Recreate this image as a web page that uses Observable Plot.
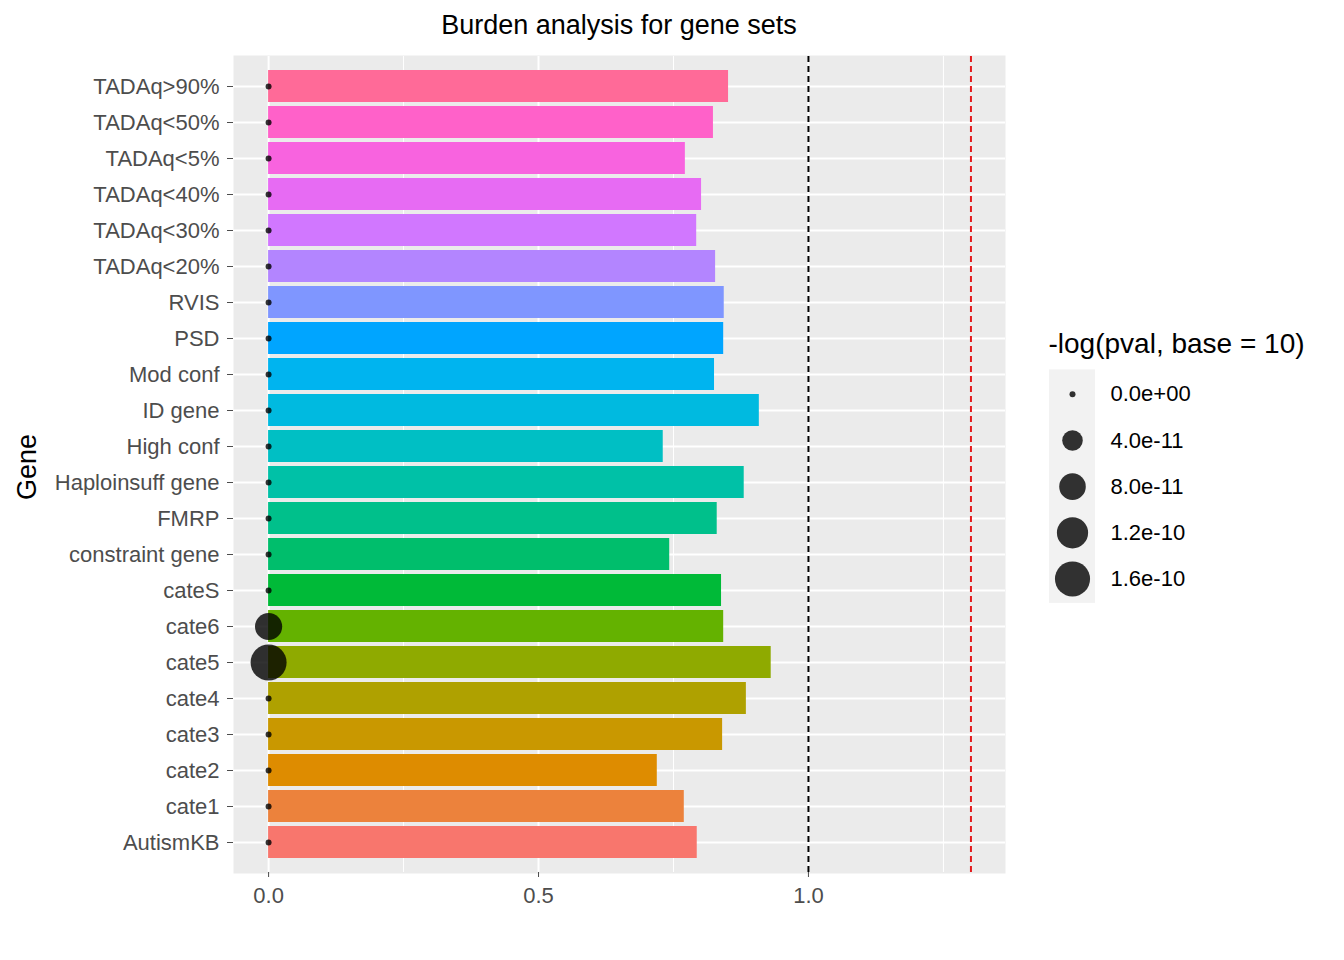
<!DOCTYPE html>
<html>
<head>
<meta charset="utf-8">
<script src="https://cdn.jsdelivr.net/npm/d3@7"></script>
<script src="https://cdn.jsdelivr.net/npm/@observablehq/plot@0.6"></script>
<style>
body { margin: 0; background: white; font-family: "Liberation Sans", Arial, sans-serif; }
#wrap { position: relative; width: 1344px; height: 960px; }
#title { position: absolute; left: 233px; width: 772px; top: 10px; text-align: center; font-size: 27px; color: #000; }
#ylab { position: absolute; left: 12px; top: 500px; transform: rotate(-90deg); transform-origin: left top; font-size: 27px; }
#chart { position: absolute; left: 0; top: 0; }
#legend { position: absolute; left: 1040px; top: 320px; }
</style>
</head>
<body>
<div id="wrap">
  <div id="chart"></div>
  <div id="title">Burden analysis for gene sets</div>
  <div id="ylab">Gene</div>
  <div id="legend"></div>
</div>
<script>
// gene sets, bottom to top (factor order)
let genes = ["AutismKB", "cate1", "cate2", "cate3", "cate4", "cate5", "cate6", "cateS",
  "constraint gene", "FMRP", "Haploinsuff gene", "High conf", "ID gene", "Mod conf",
  "PSD", "RVIS", "TADAq<20%", "TADAq<30%", "TADAq<40%", "TADAq<5%", "TADAq<50%", "TADAq>90%"];
let ratio = [0.794, 0.770, 0.720, 0.841, 0.885, 0.931, 0.843, 0.839,
  0.743, 0.831, 0.881, 0.731, 0.909, 0.826,
  0.843, 0.844, 0.828, 0.793, 0.802, 0.772, 0.824, 0.852];
let logp = [0, 0, 0, 0, 0, 1.7e-10, 8.5e-11, 0,
  0, 0, 0, 0, 0, 0,
  0, 0, 0, 0, 0, 0, 0, 0];
let colors = ["#F8766D", "#EC823C", "#DE8C00", "#C99800", "#AFA100", "#8FAA00", "#64B200", "#00BA38",
  "#00BE6C", "#00C08B", "#00C1A7", "#00BFC4", "#00BAE0", "#00B4EF",
  "#00A5FF", "#7F96FF", "#B385FF", "#D177FF", "#E76BF3", "#F863DF", "#FF61C9", "#FF6A98"];
let legendVals = [0, 4e-11, 8e-11, 1.2e-10, 1.6e-10];
let legendLabels = ["0.0e+00", "4.0e-11", "8.0e-11", "1.2e-10", "1.6e-10"];

let data = genes.map((g, i) => ({gene: g, ratio: ratio[i], logp: logp[i]}));

let rScale = {type: "sqrt", domain: [0, 1.7e-10], range: [3, 18]};

let plot = Plot.plot({
  width: 1010,
  height: 920,
  marginLeft: 233,
  marginRight: 5,
  marginTop: 56,
  marginBottom: 48,
  style: {fontFamily: "Liberation Sans, Arial, sans-serif", fontSize: "22px", color: "#4D4D4D"},
  x: {domain: [-0.065, 1.365], label: null},
  y: {domain: genes.slice().reverse(), padding: 0.1, label: null},
  color: {domain: genes, range: colors},
  r: rScale,
  marks: [
    Plot.frame({fill: "#EBEBEB", stroke: null, insetTop: -1, insetBottom: -1}),
    Plot.ruleX([0.25, 0.75, 1.25], {stroke: "white", strokeWidth: 1}),
    Plot.ruleX([0, 0.5, 1.0], {stroke: "white", strokeWidth: 2}),
    Plot.ruleY(genes, {y: d => d, stroke: "white", strokeWidth: 2}),
    Plot.barX(data, {y: "gene", x: "ratio", fill: "gene"}),
    Plot.ruleX([1.0], {stroke: "black", strokeWidth: 2, strokeDasharray: "6,4"}),
    Plot.ruleX([1.301], {stroke: "#E41A1C", strokeWidth: 2, strokeDasharray: "6,4"}),
    Plot.dot(data, {y: "gene", x: 0, r: "logp", fill: "black", fillOpacity: 0.8, stroke: null}),
    Plot.axisX({ticks: [0, 0.5, 1.0], tickFormat: d3.format(".1f"), label: null, fontSize: 22, tickSize: 5, tickPadding: 10}),
    Plot.axisY({label: null, fontSize: 22, tickSize: 6, tickPadding: 8})
  ]
});
document.getElementById("chart").append(plot);

// size legend
let legendPlot = Plot.plot({
  width: 300,
  height: 300,
  margin: 0,
  axis: null,
  style: {fontFamily: "Liberation Sans, Arial, sans-serif"},
  x: {domain: [0, 300], range: [0, 300]},
  y: {domain: [-1.6, 4.9], range: [0, 300]},
  r: rScale,
  marks: [
    Plot.rect([0], {x1: 9, x2: 55, y1: -0.53, y2: 4.53, fill: "#F2F2F2"}),
    Plot.dot(legendVals, {x: 32, y: (d, i) => i, r: d => d, fill: "black", fillOpacity: 0.8}),
    Plot.text(legendLabels, {x: 70, y: (d, i) => i, text: d => d, textAnchor: "start", fontSize: 22, fill: "black"}),
    Plot.text(["-log(pval, base = 10)"], {x: 8, y: -1.1, textAnchor: "start", fontSize: 28, fill: "black"})
  ]
});
document.getElementById("legend").append(legendPlot);
</script>
</body>
</html>
